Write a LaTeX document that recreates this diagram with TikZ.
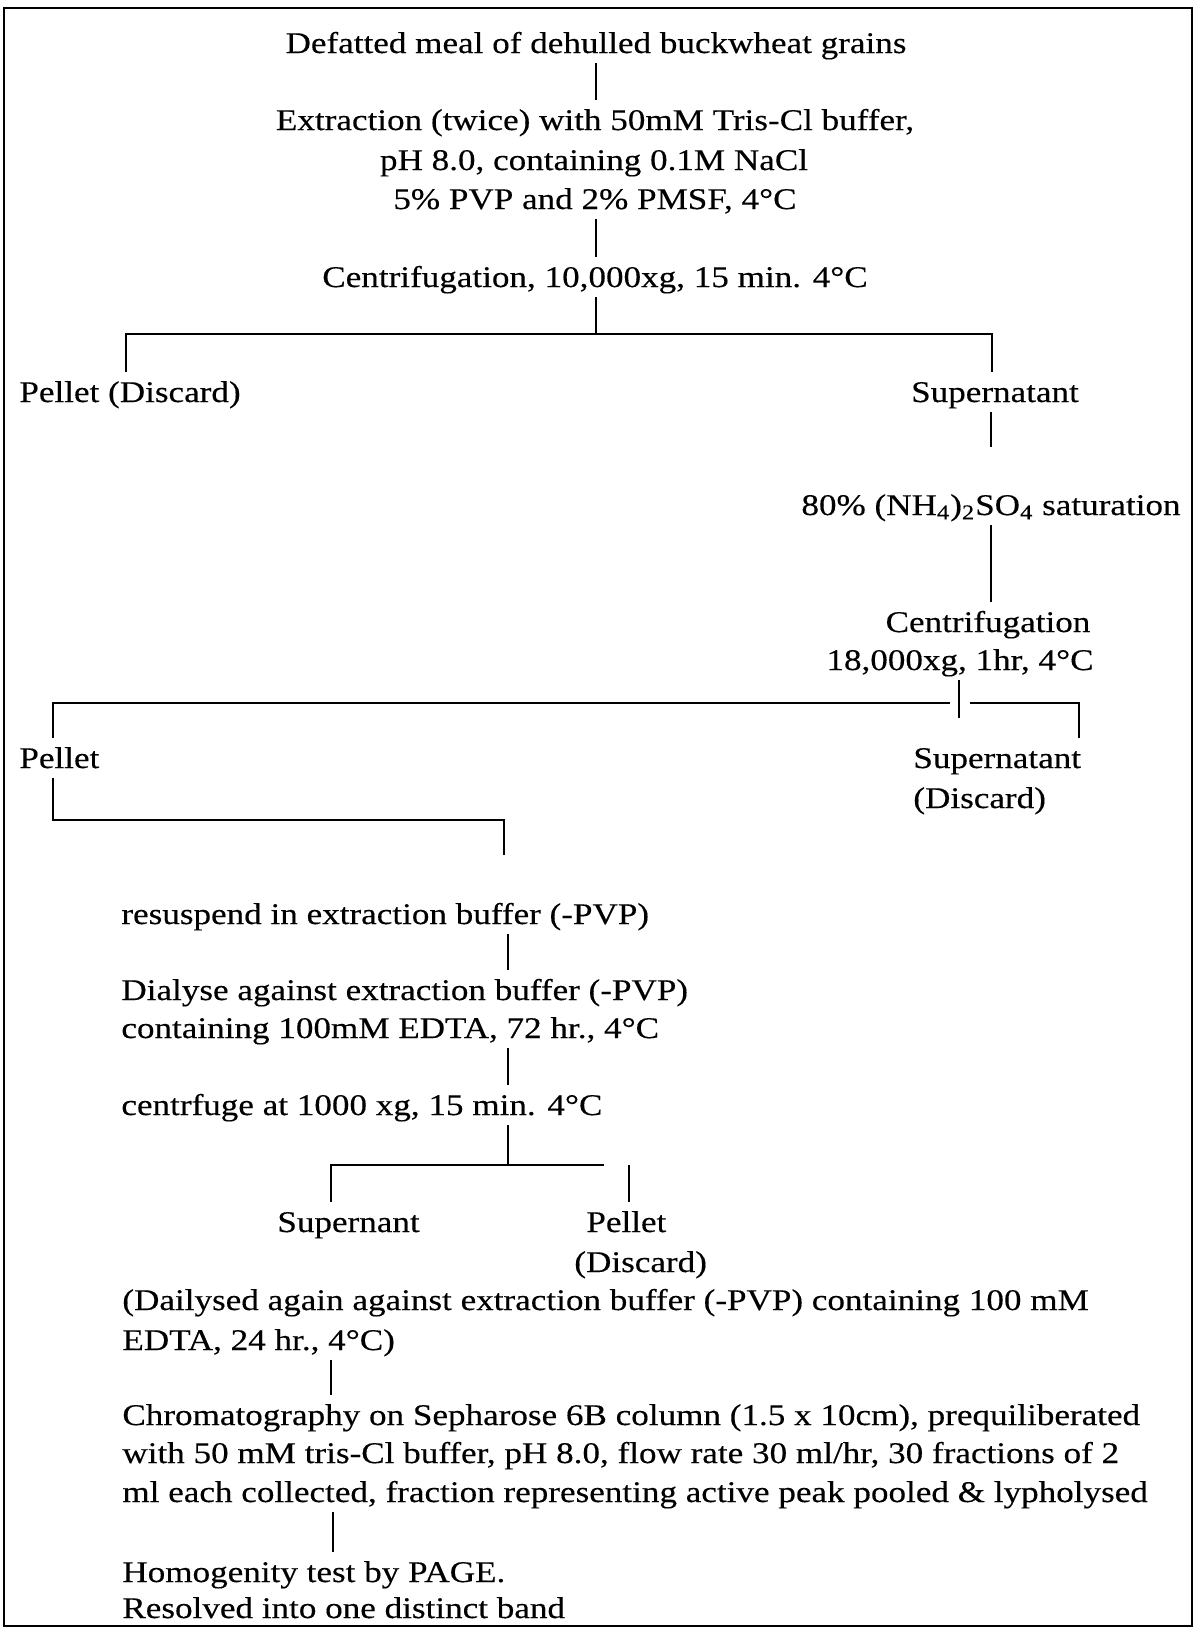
\documentclass[tikz,border=0pt]{standalone}
\usepackage{fontspec}
\setmainfont{Liberation Serif}[FakeStretch=1.17,FakeBold=0.3]
\begin{document}
\begin{tikzpicture}[x=0.5pt,y=-0.5pt]
\tikzset{
 lbl/.style={inner sep=0pt, text height=15pt, text depth=5pt, font=\fontsize{15pt}{18pt}\selectfont},
 lc/.style={lbl, anchor=base},
 ll/.style={lbl, anchor=base west},
 conn/.style={line width=1.4pt},
}
\useasboundingbox (0,0) rectangle (1198,1635);
\draw[line width=1.2pt] (4,8) rectangle (1192,1626);

% nodes
\node[lc] (L1) at (596,53) {Defatted meal of dehulled buckwheat grains};
\node[lc] (L2a) at (595,130) {Extraction (twice) with 50mM Tris-Cl buffer,};
\node[lc] (L2b) at (594,170) {pH 8.0, containing 0.1M NaCl};
\node[lc] (L2c) at (595,209) {5\% PVP and 2\% PMSF, 4°C};
\node[lc] (L3) at (595,287) {Centrifugation, 10,000xg, 15 min. 4°C};
\node[ll] (P1) at (19,402) {Pellet (Discard)};
\node[lc] (S1) at (995,402) {Supernatant};
\node[lc] (N80) at (991,515) {80\% (NH\textsubscript{4})\textsubscript{2}SO\textsubscript{4} saturation};
\node[lc] (C2a) at (988,632) {Centrifugation};
\node[lc] (C2b) at (960,670) {18,000xg, 1hr, 4°C};
\node[ll] (P2) at (19,768) {Pellet};
\node[ll] (S2) at (913,768) {Supernatant};
\node[ll] (S2b) at (913,808) {(Discard)};
\node[ll] (R) at (121,924) {resuspend in extraction buffer (-PVP)};
\node[ll] (D1) at (121,1000) {Dialyse against extraction buffer (-PVP)};
\node[ll] (D2) at (121,1038) {containing 100mM EDTA, 72 hr., 4°C};
\node[ll] (Cf) at (121,1115) {centrfuge at 1000 xg, 15 min. 4°C};
\node[ll] (Sp) at (277,1232) {Supernant};
\node[ll] (Pe) at (586,1232) {Pellet};
\node[ll] (Pe2) at (574,1272) {(Discard)};
\node[ll] (E1) at (122,1310) {(Dailysed again against extraction buffer (-PVP) containing 100 mM};
\node[ll] (E2) at (122,1350) {EDTA, 24 hr., 4°C)};
\node[ll] (Ch1) at (122,1425) {Chromatography on Sepharose 6B column (1.5 x 10cm), prequiliberated};
\node[ll] (Ch2) at (122,1463) {with 50 mM tris-Cl buffer, pH 8.0, flow rate 30 ml/hr, 30 fractions of 2};
\node[ll] (Ch3) at (122,1502) {ml each collected, fraction representing active peak pooled \& lypholysed};
\node[ll] (H1) at (122,1582) {Homogenity test by PAGE.};
\node[ll] (H2) at (122,1618) {Resolved into one distinct band};

% coordinates
\coordinate (b1) at (596,334);
\coordinate (xL1) at (126,334);
\coordinate (xR1) at (992,334);
\coordinate (b2) at (959,718);
\coordinate (xL2) at (53,703);
\coordinate (gapL) at (950,703);
\coordinate (gapR) at (970,703);
\coordinate (xR2) at (1079,703);
\coordinate (k1) at (53,820);
\coordinate (k2) at (504,820);
\coordinate (xm) at (508,0);
\coordinate (b3) at (508,1165);
\coordinate (xL3) at (331,1165);
\coordinate (hE) at (604,1165);
\coordinate (xR3) at (629,1165);
\coordinate (xc) at (331,0);
\coordinate (xh) at (333,0);

% connectors
\draw[conn] (b1 |- L1.south) -- (b1 |- L2a.north);
\draw[conn] (b1 |- L2c.south) -- (b1 |- L3.north);
\draw[conn] (b1 |- L3.south) -- (b1);
\draw[conn] (xL1 |- P1.north) -- (xL1) -- (xR1) -- (xR1 |- S1.north);
\draw[conn, shorten >=19pt] (S1.south -| N80.north) -- (N80.north);
\draw[conn] (N80.south) -- (N80.south |- C2a.north);
\draw[conn] (b2 |- C2b.south) -- (b2);
\draw[conn] (xL2 |- P2.north) -- (xL2) -- (gapL);
\draw[conn] (gapR) -- (xR2) -- (xR2 |- S2.north);
\draw[conn, shorten >=19.5pt] (k1 |- P2.south) -- (k1) -- (k2) -- (k2 |- R.north);
\draw[conn] (R.south -| xm) -- (D1.north -| xm);
\draw[conn] (D2.south -| xm) -- (Cf.north -| xm);
\draw[conn] (Cf.south -| xm) -- (b3);
\draw[conn] (xL3 |- Sp.north) -- (xL3) -- (hE);
\draw[conn] (xR3) -- (xR3 |- Pe.north);
\draw[conn] (E2.south -| xc) -- (Ch1.north -| xc);
\draw[conn] (Ch3.south -| xh) -- (H1.north -| xh);
\end{tikzpicture}
\end{document}
